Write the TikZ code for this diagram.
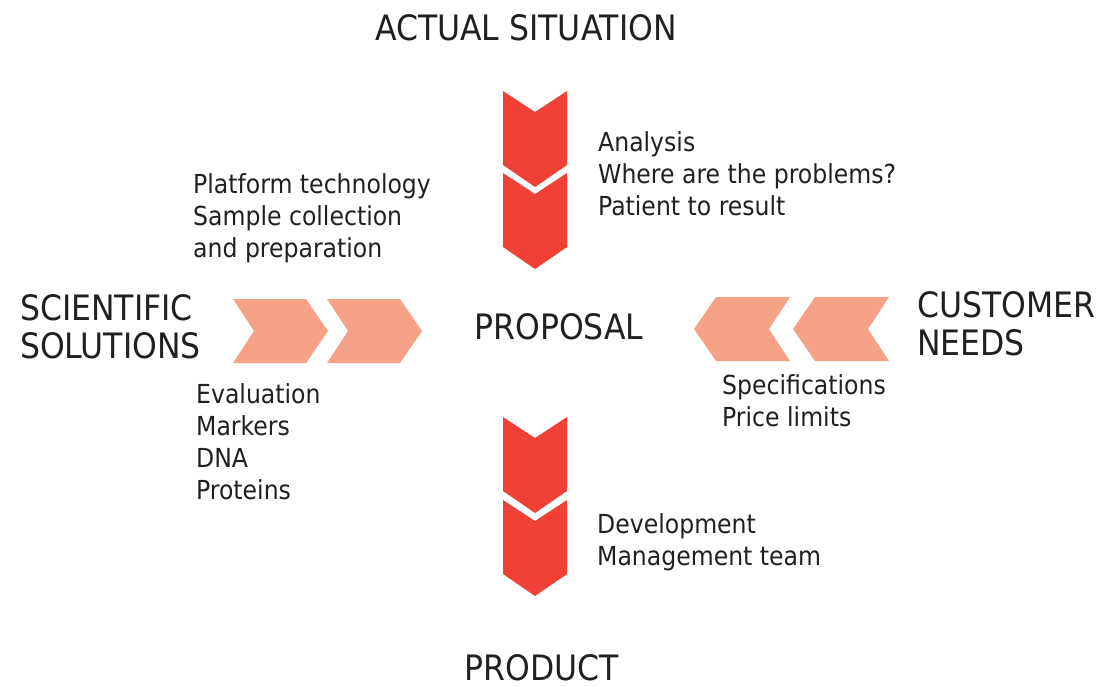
\documentclass[tikz,border=0pt]{standalone}
\usepackage{fontspec}
\setmainfont{DejaVu Sans Condensed}
\usepackage{tikz}
\definecolor{chevred}{HTML}{EF4136}
\definecolor{chevpink}{HTML}{F6A287}
\definecolor{txtgray}{HTML}{231F20}
\begin{document}
\begin{tikzpicture}[x=1pt,y=-1pt,
 body/.style={align=left,anchor=west,inner sep=0pt,text=txtgray,font=\fontsize{26.2}{32}\selectfont},
 head/.style={align=left,inner sep=0pt,text=txtgray,font=\fontsize{35}{38.5}\selectfont}]
 \useasboundingbox (0,0) rectangle (1099,686);
 % chevrons down (vertical axis)
 \foreach \y in {91,173,417,500}
  \fill[chevred] (503,\y) -- (535,\y+21) -- (567,\y) -- (567,\y+74) -- (535,\y+96) -- (503,\y+74) -- cycle;
 % chevrons right (left side)
 \foreach \x in {233,327}
  \fill[chevpink] (\x,299) -- (\x+73,299) -- (\x+95,331) -- (\x+73,363) -- (\x,363) -- (\x+21,331) -- cycle;
 % chevrons left (right side)
 \foreach \x in {694,793}
  \fill[chevpink] (\x,329) -- (\x+22,297) -- (\x+96,297) -- (\x+75,329) -- (\x+96,361) -- (\x+22,361) -- cycle;
 \node[head,anchor=base] (actual) at (526,40) {ACTUAL SITUATION};
 \node[head,anchor=base] (proposal) at (559,339) {PROPOSAL};
 \node[head,anchor=base] (product) at (542,680) {PRODUCT};
 \node[head,anchor=west] (sci) at (20,327) {SCIENTIFIC\\SOLUTIONS};
 \node[head,anchor=west] (cust) at (917,324) {CUSTOMER\\NEEDS};
 \node[body] (analysis) at (598,174) {Analysis\\Where are the problems?\\Patient to result};
 \node[body] (platform) at (193,218) {Platform technology\\Sample collection\\and preparation};
 \node[body] (eval) at (196,442) {Evaluation\\Markers\\DNA\\Proteins};
 \node[body] (spec) at (722,401) {Specifications\\Price limits};
 \node[body] (dev) at (597,542) {Development\\Management team};
\end{tikzpicture}
\end{document}
